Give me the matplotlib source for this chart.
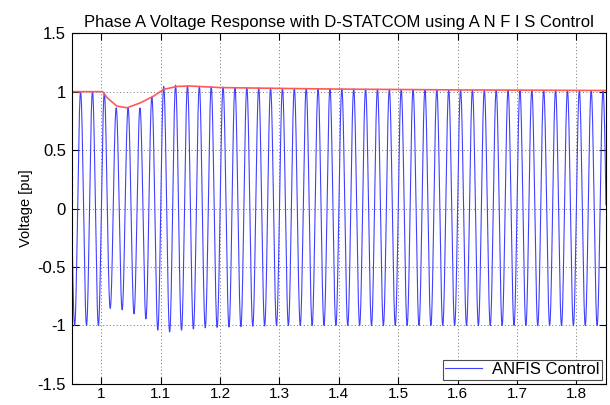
import numpy as np
import matplotlib
matplotlib.use("Agg")
import matplotlib.pyplot as plt
from matplotlib.ticker import FormatStrFormatter

plt.rcParams['font.family'] = ['Liberation Sans', 'DejaVu Sans']

# supply frequency (one cycle ~0.02 s)
freq = 50.0
t_start, t_end = 0.95, 1.85

# positive peak envelope of the phase A voltage (pu)
pos_t = [0.95, 1.000, 1.005, 1.024, 1.044, 1.065, 1.085, 1.105, 1.125, 1.145, 1.20, 1.30, 1.50, 1.85]
pos_v = [1.00, 1.000, 0.990, 0.862, 0.862, 0.860, 0.955, 1.045, 1.055, 1.050, 1.040, 1.030, 1.020, 1.010]

# negative peak envelope (pu)
neg_t = [0.95, 1.000, 1.0157, 1.035, 1.055, 1.076, 1.095, 1.115, 1.135, 1.175, 1.234, 1.30, 1.85]
neg_v = [-1.00, -1.00, -0.846, -0.865, -0.900, -0.945, -1.040, -1.055, -1.040, -1.020, -1.010, -1.000, -1.000]

# red peak-magnitude trace
red_t = [0.95, 1.002, 1.010, 1.026, 1.043, 1.066, 1.088, 1.105, 1.128, 1.150, 1.200, 1.300, 1.400, 1.600, 1.85]
red_v = [1.00, 1.000, 0.947, 0.877, 0.862, 0.905, 0.962, 1.020, 1.045, 1.048, 1.035, 1.028, 1.022, 1.015, 1.010]

t = np.arange(t_start, t_end, 1e-4)
carrier = np.sin(2 * np.pi * freq * t)
amp = np.where(carrier >= 0, np.interp(t, pos_t, pos_v), -np.interp(t, neg_t, neg_v))
va = amp * carrier

fig = plt.figure(figsize=(6.1, 4.05), dpi=100)
ax = fig.add_axes([0.1175, 0.052, 0.876, 0.866])

ax.plot(t, va, color=(0.25, 0.25, 1.0), lw=0.8, label='ANFIS Control')
ax.plot(red_t, red_v, color=(1.0, 0.35, 0.35), lw=1.2)

ax.set_xlim(t_start, t_end)
ax.set_ylim(-1.5, 1.5)
ax.set_xticks(np.arange(1.0, 1.81, 0.1))
ax.set_yticks(np.arange(-1.5, 1.51, 0.5))
ax.xaxis.set_major_formatter(FormatStrFormatter('%g'))
ax.yaxis.set_major_formatter(FormatStrFormatter('%g'))
ax.tick_params(direction='in', top=True, right=True, length=5)
ax.tick_params(axis='y', labelsize=12, pad=4)
ax.tick_params(axis='x', labelsize=11, pad=2)
ax.grid(True, color='0.45', linestyle=(0, (1, 2.5)), linewidth=0.7)
for s in ax.spines.values():
    s.set_linewidth(0.8)

ax.set_title('Phase A Voltage Response with D-STATCOM using A N F I S Control',
             fontsize=12, pad=4.5)
ax.set_ylabel('Voltage [pu]', fontsize=10.5, labelpad=3)

leg = ax.legend(loc='lower right', fontsize=12, fancybox=False, framealpha=1,
                edgecolor='0.3', borderpad=0.15, handlelength=2.2, handletextpad=0.6,
                borderaxespad=0.25)
leg.get_frame().set_linewidth(0.8)

fig.savefig('out.png', dpi=100)
